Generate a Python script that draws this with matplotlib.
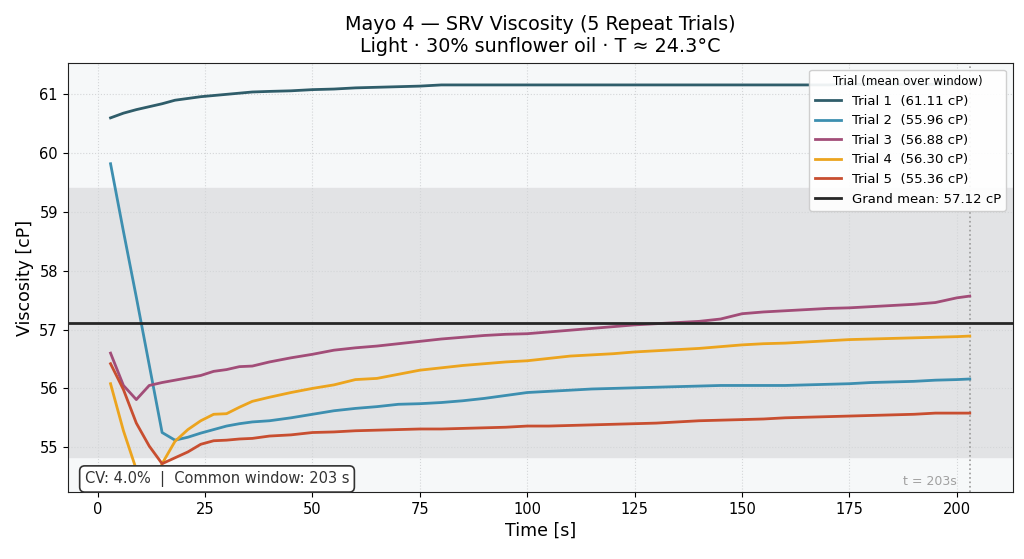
import matplotlib
matplotlib.use("Agg")
import matplotlib.pyplot as plt

# sample times [s]
t = [3, 6, 9, 12, 15, 18, 21, 24, 27, 30, 33, 36, 40, 45, 50, 55, 60, 65, 70, 75,
     80, 85, 90, 95, 100, 105, 110, 115, 120, 125, 130, 135, 140, 145, 150, 155,
     160, 165, 170, 175, 180, 185, 190, 195, 200, 203]

trial1 = [60.60, 60.68, 60.74, 60.79, 60.84, 60.90, 60.93, 60.96, 60.98, 61.00,
          61.02, 61.04, 61.05, 61.06, 61.08, 61.09, 61.11, 61.12, 61.13, 61.14,
          61.16, 61.16, 61.16, 61.16, 61.16, 61.16, 61.16, 61.16, 61.16, 61.16,
          61.16, 61.16, 61.16, 61.16, 61.16, 61.16, 61.16, 61.16, 61.16, 61.17,
          61.17, 61.17, 61.17, 61.17, 61.17, 61.17]
trial2 = [59.82, 58.67, 57.55, 56.40, 55.25, 55.12, 55.17, 55.24, 55.30, 55.36,
          55.40, 55.43, 55.45, 55.50, 55.56, 55.62, 55.66, 55.69, 55.73, 55.74,
          55.76, 55.79, 55.83, 55.88, 55.93, 55.95, 55.97, 55.99, 56.00, 56.01,
          56.02, 56.03, 56.04, 56.05, 56.05, 56.05, 56.05, 56.06, 56.07, 56.08,
          56.10, 56.11, 56.12, 56.14, 56.15, 56.16]
trial3 = [56.60, 56.05, 55.81, 56.05, 56.10, 56.14, 56.18, 56.22, 56.29, 56.32,
          56.37, 56.38, 56.45, 56.52, 56.58, 56.65, 56.69, 56.72, 56.76, 56.80,
          56.84, 56.87, 56.90, 56.92, 56.93, 56.96, 56.99, 57.02, 57.05, 57.08,
          57.10, 57.12, 57.14, 57.18, 57.27, 57.30, 57.32, 57.34, 57.36, 57.37,
          57.39, 57.41, 57.43, 57.46, 57.54, 57.57]
trial4 = [56.08, 55.28, 54.62, 54.10, 54.72, 55.10, 55.30, 55.45, 55.56, 55.57,
          55.68, 55.78, 55.85, 55.93, 56.00, 56.06, 56.15, 56.17, 56.24, 56.31,
          56.35, 56.39, 56.42, 56.45, 56.47, 56.51, 56.55, 56.57, 56.59, 56.62,
          56.64, 56.66, 56.68, 56.71, 56.74, 56.76, 56.77, 56.79, 56.81, 56.83,
          56.84, 56.85, 56.86, 56.87, 56.88, 56.89]
trial5 = [56.42, 55.98, 55.41, 55.02, 54.72, 54.82, 54.92, 55.05, 55.11, 55.12,
          55.14, 55.15, 55.19, 55.21, 55.25, 55.26, 55.28, 55.29, 55.30, 55.31,
          55.31, 55.32, 55.33, 55.34, 55.36, 55.36, 55.37, 55.38, 55.39, 55.40,
          55.41, 55.43, 55.45, 55.46, 55.47, 55.48, 55.50, 55.51, 55.52, 55.53,
          55.54, 55.55, 55.56, 55.58, 55.58, 55.58]

labels = ["Trial 1  (61.11 cP)", "Trial 2  (55.96 cP)", "Trial 3  (56.88 cP)",
          "Trial 4  (56.30 cP)", "Trial 5  (55.36 cP)"]
colors = ["#2f5d6a", "#3d8fb0", "#a24d78", "#eca41e", "#c84e30"]

grand_mean = 57.12
grand_sd = 2.29
window = 203

fig = plt.figure(figsize=(10.24, 5.59), dpi=100)
ax = fig.add_axes([0.066, 0.12, 0.923, 0.767])
ax.set_facecolor("#f6f8f9")

ax.axhspan(grand_mean - grand_sd, grand_mean + grand_sd, color="#e2e3e5", zorder=0)
ax.grid(True, linestyle=":", color="#d4d6d8", linewidth=0.8, zorder=0.5)

for ys, lab, c in zip([trial1, trial2, trial3, trial4, trial5], labels, colors):
    ax.plot(t, ys, color=c, lw=2, label=lab, zorder=3)

ax.axhline(grand_mean, color="#262626", lw=2, label=f"Grand mean: {grand_mean:.2f} cP", zorder=4)
ax.axvline(window, color="#9a9a9a", lw=1.2, linestyle=":", zorder=2)
ax.text(window - 3, 54.3, f"t = {window}s", color="#a0a0a0", fontsize=9,
        ha="right", va="bottom")

ax.text(-3, 54.46, f"CV: 4.0%  |  Common window: {window} s", fontsize=10.5,
        color="#333333", ha="left", va="center", zorder=6,
        bbox=dict(boxstyle="round,pad=0.35", facecolor="white", edgecolor="#333333", lw=1.2))

ax.set_xlim(-7, 213)
ax.set_ylim(54.24, 61.53)
ax.set_xticks([0, 25, 50, 75, 100, 125, 150, 175, 200])
ax.set_yticks([55, 56, 57, 58, 59, 60, 61])
ax.tick_params(labelsize=10.5)
ax.set_xlabel("Time [s]", fontsize=12.5)
ax.set_ylabel("Viscosity [cP]", fontsize=12.5)
ax.set_title("Mayo 4 — SRV Viscosity (5 Repeat Trials)\nLight · 30% sunflower oil · T ≈ 24.3°C",
             fontsize=13.8, pad=8)
for s in ax.spines.values():
    s.set_color("#222222")

leg = ax.legend(loc="upper right", title="Trial (mean over window)", fontsize=9.5,
                title_fontsize=8.5, framealpha=0.92, fancybox=True)
leg.set_zorder(7)

fig.savefig("out.png", dpi=100)
